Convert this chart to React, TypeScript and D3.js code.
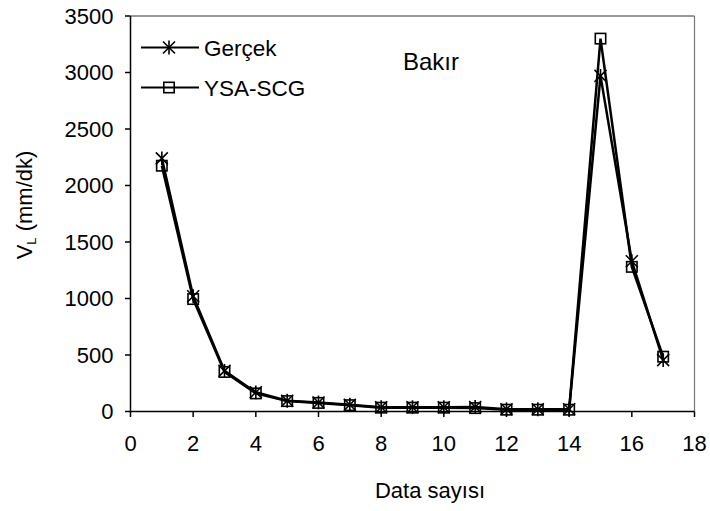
import React from "react";
import * as d3 from "d3";

const xValues = [1, 2, 3, 4, 5, 6, 7, 8, 9, 10, 11, 12, 13, 14, 15, 16, 17];
const gercek = [2240, 1020, 360, 170, 95, 80, 60, 38, 38, 38, 40, 20, 20, 20, 2970, 1330, 455];
const ysaScg = [2175, 995, 350, 160, 92, 76, 56, 34, 34, 34, 30, 16, 16, 16, 3300, 1280, 485];
const xTicks = [0, 2, 4, 6, 8, 10, 12, 14, 16, 18];
const yTicks = [0, 500, 1000, 1500, 2000, 2500, 3000, 3500];

const FONT = "'Liberation Sans', Arial, sans-serif";

function Star({ x, y, s }: { x: number; y: number; s: number }) {
  return (
    <g stroke="#000" strokeWidth={1.6} fill="none">
      <line x1={x - s} y1={y - s} x2={x + s} y2={y + s} />
      <line x1={x - s} y1={y + s} x2={x + s} y2={y - s} />
      <line x1={x} y1={y - s * 1.15} x2={x} y2={y + s * 1.15} />
    </g>
  );
}

function Square({ x, y, s }: { x: number; y: number; s: number }) {
  return <rect x={x - s} y={y - s} width={2 * s} height={2 * s} fill="none" stroke="#000" strokeWidth={1.6} />;
}

export default function App() {
  const left = 130.5, right = 694.5, top = 16, bottom = 411.5;
  const x = d3.scaleLinear().domain([0, 18]).range([left, right]);
  const y = d3.scaleLinear().domain([0, 3500]).range([bottom, top]);
  const line = d3.line<number>().x((_, i) => x(xValues[i])).y((d) => y(d));

  return (
    <svg width={710} height={511} style={{ position: "absolute", left: 0, top: 0, background: "#fff" }} fontFamily={FONT}>
      <rect x={0} y={0} width={710} height={511} fill="#fff" />
      {/* plot border */}
      <line x1={left} y1={top} x2={right} y2={top} stroke="#333" strokeWidth={1.2} />
      <line x1={right} y1={top} x2={right} y2={bottom} stroke="#777" strokeWidth={1.2} />
      {/* axes */}
      <line x1={left} y1={top} x2={left} y2={bottom} stroke="#000" strokeWidth={1.5} />
      <line x1={left} y1={bottom} x2={right} y2={bottom} stroke="#000" strokeWidth={1.5} />
      {yTicks.map((t) => (
        <g key={"y" + t}>
          <line x1={left - 5.5} x2={left} y1={y(t)} y2={y(t)} stroke="#000" strokeWidth={1.5} />
          <text x={113.5} y={y(t) + 7.8} textAnchor="end" fontSize={22} fill="#000">
            {t}
          </text>
        </g>
      ))}
      {xTicks.map((t) => (
        <g key={"x" + t}>
          <line x1={x(t)} x2={x(t)} y1={bottom} y2={bottom + 5.5} stroke="#000" strokeWidth={1.5} />
          <text x={x(t)} y={451} textAnchor="middle" fontSize={22} fill="#000">
            {t}
          </text>
        </g>
      ))}
      {/* series lines */}
      <path d={line(gercek) || ""} fill="none" stroke="#000" strokeWidth={2.5} />
      <path d={line(ysaScg) || ""} fill="none" stroke="#000" strokeWidth={2.5} />
      {gercek.map((v, i) => (
        <Star key={"g" + i} x={x(xValues[i])} y={y(v)} s={6} />
      ))}
      {ysaScg.map((v, i) => (
        <Square key={"s" + i} x={x(xValues[i])} y={y(v)} s={5.2} />
      ))}
      {/* legend */}
      <line x1={141} x2={199} y1={47.5} y2={47.5} stroke="#000" strokeWidth={2} />
      <Star x={169} y={47.5} s={6} />
      <text x={204} y={55.5} fontSize={22.5} fill="#000">Gerçek</text>
      <line x1={141} x2={199} y1={87.5} y2={87.5} stroke="#000" strokeWidth={2} />
      <Square x={169} y={87.5} s={5.2} />
      <text x={204} y={95.5} fontSize={22.5} fill="#000">YSA-SCG</text>
      {/* annotation */}
      <text x={403} y={70} fontSize={24} fill="#000">Bakır</text>
      {/* axis titles */}
      <text x={430} y={498} textAnchor="middle" fontSize={22} fill="#000">Data sayısı</text>
      <text transform="translate(32,205) rotate(-90)" textAnchor="middle" fontSize={22} fill="#000">
        V<tspan fontSize={13} dy={4}>L</tspan>
        <tspan dy={-4}> (mm/dk)</tspan>
      </text>
    </svg>
  );
}
